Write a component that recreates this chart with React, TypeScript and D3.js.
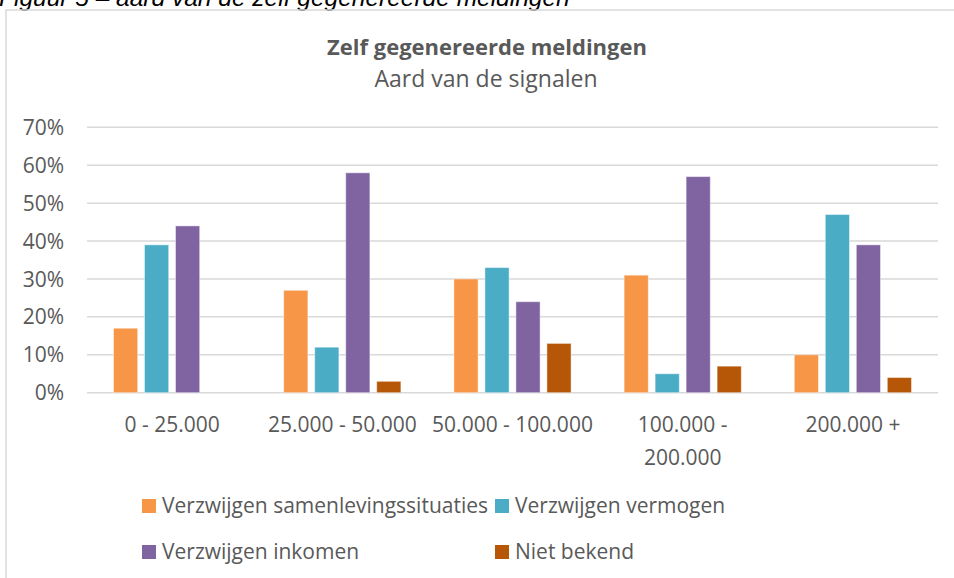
import React from 'react';
import * as d3 from 'd3';

// Inkomensklassen (x-as)
const categories = ['0 - 25.000', '25.000 - 50.000', '50.000 - 100.000', '100.000 - 200.000', '200.000 +'];
// labels zoals ze op de as staan (met regelafbreking)
const categoryLines = [['0 - 25.000'], ['25.000 - 50.000'], ['50.000 - 100.000'], ['100.000 -', '200.000'], ['200.000 +']];

const seriesNames = ['Verzwijgen samenlevingssituaties', 'Verzwijgen vermogen', 'Verzwijgen inkomen', 'Niet bekend'];
const seriesColors = ['#F79646', '#4BACC6', '#8064A2', '#B65708'];

const samenleving = [0.17, 0.27, 0.30, 0.31, 0.10];
const vermogen = [0.39, 0.12, 0.33, 0.05, 0.47];
const inkomen = [0.44, 0.58, 0.24, 0.57, 0.39];
const nietBekend = [0, 0.03, 0.13, 0.07, 0.04];

const yTicks = [0, 0.1, 0.2, 0.3, 0.4, 0.5, 0.6, 0.7];

const width = 954;
const height = 578;
const margin = { left: 87, right: 16, top: 127.3, bottom: 185.3 };
const font = '"Open Sans", sans-serif';
const textColor = '#595959';
const gridColor = '#D9D9D9';

const App = () => {
    const values = [samenleving, vermogen, inkomen, nietBekend];

    const x = d3.scaleBand<string>()
        .domain(categories)
        .range([margin.left, width - margin.right]);

    const xs = d3.scaleBand<string>()
        .domain(seriesNames)
        .range([-62, 62])
        .paddingInner(0.22)
        .paddingOuter(0.11);

    const y = d3.scaleLinear()
        .domain([0, 0.7])
        .range([height - margin.bottom, margin.top]);

    const fmt = d3.format('.0%');

    return (
        <svg width={width} height={height}
             style={{ position: 'absolute', left: 0, top: 0, display: 'block', background: '#fff' }}>
            {/* figuurbijschrift, bovenkant afgesneden zoals in het origineel */}
            <text x={-1} y={5.5} fontFamily='"Liberation Sans", Arial, sans-serif' fontStyle="italic"
                  fontSize={24.5} fill="#000">Figuur 5 – aard van de zelf gegenereerde meldingen</text>

            {/* kader van de grafiek */}
            <rect x={6} y={10} width={width + 20} height={height + 20} fill="none" stroke={gridColor} strokeWidth={1.5} />

            <text x={487} y={55} textAnchor="middle" fontFamily={font} fontWeight="bold" fontSize={22} fill={textColor}>
                Zelf gegenereerde meldingen
            </text>
            <text x={486} y={87} textAnchor="middle" fontFamily={font} fontSize={23} fill={textColor}>
                Aard van de signalen
            </text>

            {/* rasterlijnen en y-as */}
            {yTicks.map(t => (
                <g key={t}>
                    <line x1={margin.left} x2={width - margin.right} y1={y(t)} y2={y(t)}
                          stroke={gridColor} strokeWidth={1.5} />
                    <text x={64} y={y(t)} dy="0.36em" textAnchor="end" fontFamily={font} fontSize={21} fill={textColor}>
                        {fmt(t)}
                    </text>
                </g>
            ))}

            {/* staven */}
            {categories.map((c, ci) => {
                const cx = (x(c) as number) + x.bandwidth() / 2;
                return (
                    <g key={c}>
                        {seriesNames.map((s, si) => {
                            const v = values[si][ci];
                            if (!v) return null;
                            return (
                                <rect key={s}
                                      x={cx + (xs(s) as number)}
                                      y={y(v)}
                                      width={xs.bandwidth()}
                                      height={y(0) - y(v)}
                                      fill={seriesColors[si]}
                                      stroke="#fff" strokeOpacity={0.45} strokeWidth={1} />
                            );
                        })}
                    </g>
                );
            })}

            {/* x-as labels */}
            {categories.map((c, ci) => {
                const cx = (x(c) as number) + x.bandwidth() / 2;
                return (
                    <text key={c} x={cx} y={431.7} textAnchor="middle" fontFamily={font} fontSize={21} fill={textColor}>
                        {categoryLines[ci].map((l, li) => (
                            <tspan key={li} x={cx} dy={li === 0 ? 0 : 33.5}>{l}</tspan>
                        ))}
                    </text>
                );
            })}

            {/* legenda */}
            {seriesNames.map((s, si) => {
                const lx = si % 2 === 0 ? 142 : 495;
                const ly = si < 2 ? 513 : 559;
                return (
                    <g key={s}>
                        <rect x={lx} y={ly - 14} width={14} height={14} fill={seriesColors[si]} />
                        <text x={lx + 20} y={ly} fontFamily={font} fontSize={21} fill={textColor}>{s}</text>
                    </g>
                );
            })}
        </svg>
    );
};

export default App;
